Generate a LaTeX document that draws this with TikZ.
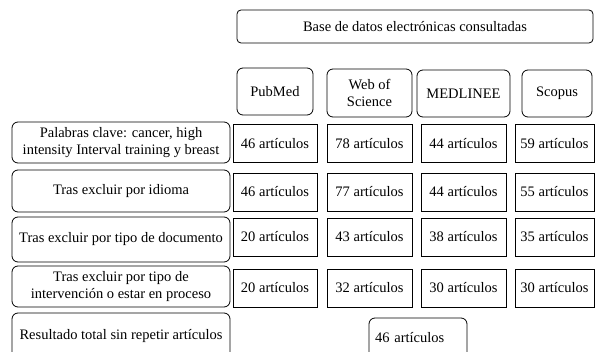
\documentclass[tikz,border=0pt]{standalone}
\usepackage{fontspec}
\setmainfont{Liberation Serif}
\begin{document}
\begin{tikzpicture}[x=1pt, y=-1pt, font=\fontsize{14.5}{17.5}\selectfont, roundStyle/.style={rectangle, draw, rounded corners=6pt, line width=0.8pt, inner sep=0pt, align=center}, countStyle/.style={rectangle, draw, line width=0.8pt, inner sep=0pt, minimum height=38pt}]
                    \useasboundingbox (0, 0) rectangle (595, 352);

                    \node[roundStyle, rounded corners=4pt, minimum width=356pt, minimum height=33pt] (base) at (415, 26.5) {Base de datos electrónicas consultadas};

                    \node[roundStyle, minimum width=76pt, minimum height=47pt] (db_1) at (275,   91.5) {PubMed};
                    \node[roundStyle, minimum width=85pt, minimum height=48pt] (db_2) at (369.5, 93)   {Web of\\Science};
                    \node[roundStyle, minimum width=93pt, minimum height=47pt] (db_3) at (463.5, 93.5) {MEDLINEE};
                    \node[roundStyle, minimum width=70pt, minimum height=47pt] (db_4) at (557,   93.5) {Scopus};

                    \node[roundStyle, minimum width=218pt, minimum height=41pt] (step_1) at (121, 142.5) {Palabras clave: cancer, high\\intensity Interval training y breast};
                    \node[roundStyle, minimum width=218pt, minimum height=42pt] (step_2) at (121, 191)   {Tras excluir por idioma};
                    \node[roundStyle, minimum width=218pt, minimum height=45pt] (step_3) at (121, 239.5) {Tras excluir por tipo de documento};
                    \node[roundStyle, minimum width=218pt, minimum height=41pt] (step_4) at (121, 286.5) {Tras excluir por tipo de\\intervención o estar en proceso};
                    \node[roundStyle, minimum width=218pt, minimum height=46pt] (step_5) at (121, 336)   {Resultado total sin repetir artículos};

                    \node[countStyle, minimum width=84pt] (n_1_1) at (275,   143.5) {46 artículos};
                    \node[countStyle, minimum width=85pt] (n_1_2) at (369.5, 143.5) {78 artículos};
                    \node[countStyle, minimum width=85pt] (n_1_3) at (463.5, 143.5) {44 artículos};
                    \node[countStyle, minimum width=79pt] (n_1_4) at (554.5, 143.5) {59 artículos};

                    \node[countStyle, minimum width=84pt] (n_2_1) at (275,   192) {46 artículos};
                    \node[countStyle, minimum width=85pt] (n_2_2) at (369.5, 192) {77 artículos};
                    \node[countStyle, minimum width=85pt] (n_2_3) at (463.5, 192) {44 artículos};
                    \node[countStyle, minimum width=79pt] (n_2_4) at (554.5, 192) {55 artículos};

                    \node[countStyle, minimum width=84pt] (n_3_1) at (275,   237) {20 artículos};
                    \node[countStyle, minimum width=85pt] (n_3_2) at (369.5, 237) {43 artículos};
                    \node[countStyle, minimum width=85pt] (n_3_3) at (463.5, 237) {38 artículos};
                    \node[countStyle, minimum width=79pt] (n_3_4) at (554.5, 237) {35 artículos};

                    \node[countStyle, minimum width=84pt] (n_4_1) at (275,   288) {20 artículos};
                    \node[countStyle, minimum width=85pt] (n_4_2) at (369.5, 288) {32 artículos};
                    \node[countStyle, minimum width=85pt] (n_4_3) at (463.5, 288) {30 artículos};
                    \node[countStyle, minimum width=79pt] (n_4_4) at (554.5, 288) {30 artículos};

                    \node[roundStyle, minimum width=98pt, minimum height=40pt, text width=86pt, align=left] (total) at (418, 338) {46 artículos};
                \end{tikzpicture}
\end{document}
